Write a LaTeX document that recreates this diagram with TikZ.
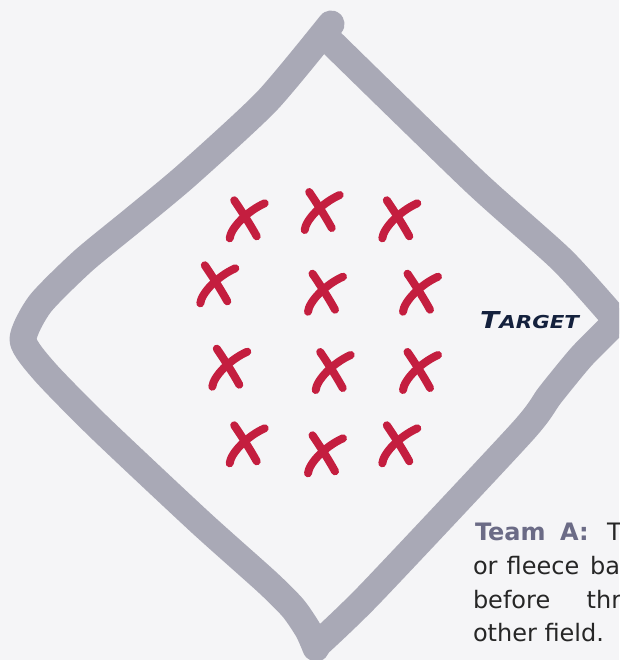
\documentclass[tikz,border=0pt]{standalone}
\usepackage{fontspec}
\usepackage{graphicx}
\setmainfont{DejaVu Sans}[BoldFont={DejaVu Sans Bold},ItalicFont={DejaVu Sans Oblique},BoldItalicFont={DejaVu Sans Bold Oblique}]
\newfontfamily\tgtfont{DejaVu Sans Bold Oblique}
\definecolor{bgcol}{HTML}{F5F5F7}
\definecolor{fieldgray}{HTML}{A9A9B6}
\definecolor{xred}{HTML}{C41E3F}
\definecolor{navy}{HTML}{14213D}
\definecolor{leadcol}{HTML}{6B6B86}
\definecolor{bodytext}{HTML}{262626}
\begin{document}
\begin{tikzpicture}[x=1pt,y=-1pt,
  field/.style={draw=fieldgray, line width=27pt, line cap=round, line join=round},
  xstroke/.style={draw=xred, line width=8pt, line cap=round},
  word/.style={anchor=base west, inner sep=0pt, outer sep=0pt, text=bodytext, font=\fontsize{24pt}{34pt}\selectfont},
  lead/.style={word, text=leadcol, font=\fontsize{24pt}{34pt}\selectfont\bfseries},
  xmark/.pic={
    \draw[xstroke] (-12.5,-18) .. controls (-5,-7) and (4,7) .. (10,18);
    \draw[xstroke] (-17,20) .. controls (-16,10) and (0,-7) .. (18,-15);
  }]
\useasboundingbox (0,0) rectangle (619,660);
\fill[bgcol] (0,0) rectangle (619,660);
\clip (0,0) rectangle (619,660);

% field outline (hand drawn diamond)
\draw[field] plot[smooth, tension=0.4] coordinates {(316,648) (308,630) (293,608) (267,582) (200,522) (100,428) (45,372) (23,340) (40,304) (83,261) (133,220) (187,175) (267,101) (331,24)};
\draw[field] plot[smooth, tension=0.4] coordinates {(327,38) (474,181) (562,260) (617,321)};
\draw[field] plot[smooth, tension=0.4] coordinates {(617,321) (582,356) (550,395) (522,432) (370,594) (316,646)};

% players
\pic at (246.7,218.3) {xmark};
\pic at (321.7,210) {xmark};
\pic at (399.3,218.3) {xmark};
\pic at (217.3,283.3) {xmark};
\pic at (325,291.7) {xmark};
\pic at (420,291.7) {xmark};
\pic at (229.3,366.7) {xmark};
\pic at (332.7,370) {xmark};
\pic at (420,370) {xmark};
\pic at (246.7,443.3) {xmark};
\pic at (325,453.3) {xmark};
\pic at (399.3,443.3) {xmark};

% target label
\node[anchor=base west, inner sep=0pt, text=navy] (target) at (480,328)
  {\scalebox{1.2}[1]{\tgtfont\fontsize{23.3pt}{24pt}\selectfont T\fontsize{17.8pt}{18pt}\selectfont ARGET}};

% caption text (cut off at the right edge, as in the reference)
\node[lead] (w11) at (475,540) {Team};
\node[lead] (w12) at (560,540) {A:};
\node[word] (w13) at (607,540) {T};
\node[word] (w21) at (473,574) {or};
\node[word] (w22) at (506.7,574) {fleece};
\node[word] (w23) at (590,574) {ba};
\node[word] (w31) at (473,608.3) {before};
\node[word] (w32) at (586.7,608.3) {thr};
\node[word] (w41) at (473,641.7) {other field.};
\end{tikzpicture}
\end{document}
